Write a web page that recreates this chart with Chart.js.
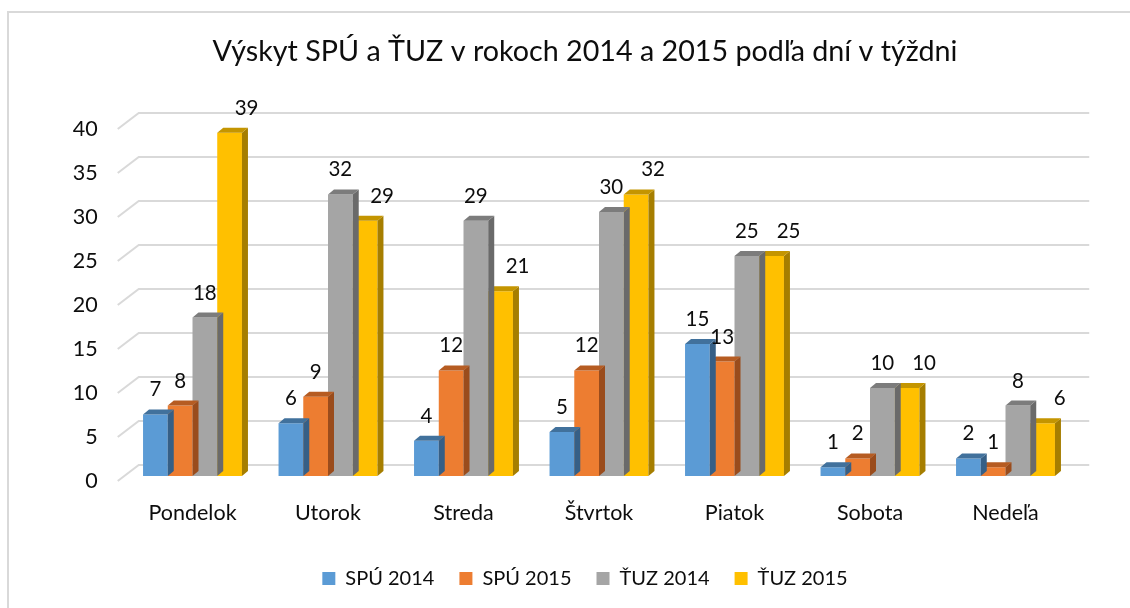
<!DOCTYPE html>
<html>
<head>
<meta charset="utf-8">
<script src="https://cdn.jsdelivr.net/npm/chart.js@4.4.1/dist/chart.umd.min.js"></script>
<style>
  html, body { margin: 0; padding: 0; background: #ffffff; }
  #wrap { width: 1130px; height: 608px; position: relative; }
</style>
</head>
<body>
<div id="wrap"><canvas id="c" width="1130" height="608"></canvas></div>
<script>
// ---- data ----
const chartTitle = 'Výskyt SPÚ a ŤUZ v rokoch 2014 a 2015 podľa dní v týždni';
const categories = ['Pondelok', 'Utorok', 'Streda', 'Štvrtok', 'Piatok', 'Sobota', 'Nedeľa'];
const seriesNames = ['SPÚ 2014', 'SPÚ 2015', 'ŤUZ 2014', 'ŤUZ 2015'];
const spu2014 = [7, 6, 4, 5, 15, 1, 2];
const spu2015 = [8, 9, 12, 12, 13, 2, 1];
const tuz2014 = [18, 32, 29, 30, 25, 10, 8];
const tuz2015 = [39, 29, 21, 32, 25, 10, 6];
const yTicks = [0, 5, 10, 15, 20, 25, 30, 35, 40];

// ---- styles ----
const frontColors = ['#5B9BD5', '#ED7D31', '#A5A5A5', '#FFC000'];
const topColors   = ['#41719C', '#B65C22', '#7C7C7C', '#C49500'];
const sideColors  = ['#365F86', '#9A4C1C', '#6A6A6A', '#A67E00'];
const labelShift  = [0, 0, 0, 17];
const FONT = 'Lato';
const TEXT = '#0d0d0d';
const DX = 6, DY = 5;

const frame = {
  id: 'frame',
  beforeDraw(chart) {
    const ctx = chart.ctx;
    ctx.save();
    ctx.fillStyle = '#ffffff';
    ctx.fillRect(0, 0, chart.width, chart.height);
    ctx.strokeStyle = '#D9D9D9';
    ctx.lineWidth = 2;
    ctx.beginPath();
    ctx.moveTo(8, chart.height);
    ctx.lineTo(8, 12);
    ctx.lineTo(chart.width, 12);
    ctx.stroke();
    ctx.restore();
  }
};

const wallGrid = {
  id: 'wallGrid',
  beforeDatasetsDraw(chart) {
    const ctx = chart.ctx, ys = chart.scales.y, a = chart.chartArea;
    ctx.save();
    ctx.strokeStyle = '#D9D9D9';
    ctx.lineWidth = 2;
    yTicks.forEach(v => {
      const p = ys.getPixelForValue(v);
      ctx.beginPath();
      ctx.moveTo(a.left - 7, p + 5);
      ctx.lineTo(a.left + 14, p - 11);
      ctx.lineTo(a.right + 16, p - 11);
      ctx.stroke();
    });
    ctx.restore();
  }
};

const bar3d = {
  id: 'bar3d',
  afterDatasetDraw(chart, args) {
    const ctx = chart.ctx, i = args.index;
    ctx.save();
    args.meta.data.forEach(bar => {
      const {x, y, base, width} = bar.getProps(['x', 'y', 'base', 'width'], true);
      const l = x - width / 2, r = x + width / 2;
      ctx.fillStyle = sideColors[i];
      ctx.beginPath();
      ctx.moveTo(r, y); ctx.lineTo(r + DX, y - DY); ctx.lineTo(r + DX, base - DY); ctx.lineTo(r, base);
      ctx.closePath(); ctx.fill();
      ctx.fillStyle = topColors[i];
      ctx.beginPath();
      ctx.moveTo(l, y); ctx.lineTo(r, y); ctx.lineTo(r + DX, y - DY); ctx.lineTo(l + DX, y - DY);
      ctx.closePath(); ctx.fill();
    });
    ctx.restore();
  }
};

const valueLabels = {
  id: 'valueLabels',
  afterDatasetsDraw(chart) {
    const ctx = chart.ctx;
    ctx.save();
    ctx.font = '20.5px ' + FONT;
    ctx.fillStyle = TEXT;
    ctx.textAlign = 'center';
    ctx.textBaseline = 'alphabetic';
    chart.data.datasets.forEach((ds, i) => {
      const meta = chart.getDatasetMeta(i);
      meta.data.forEach((bar, j) => {
        const {x, y} = bar.getProps(['x', 'y'], true);
        ctx.fillText(String(ds.data[j]), x + labelShift[i], y - 18);
      });
    });
    ctx.restore();
  }
};

const seriesData = [spu2014, spu2015, tuz2014, tuz2015];

new Chart(document.getElementById('c'), {
  type: 'bar',
  data: {
    labels: categories,
    datasets: seriesNames.map((name, i) => ({
      label: name,
      data: seriesData[i],
      backgroundColor: frontColors[i],
      borderWidth: 0,
      categoryPercentage: 0.73,
      barPercentage: 1.0
    }))
  },
  options: {
    responsive: false,
    animation: false,
    events: [],
    layout: { padding: { left: 60, right: 20, top: 0, bottom: 9.5 } },
    scales: {
      x: {
        grid: { display: false, drawTicks: false },
        border: { display: false },
        ticks: { font: { family: FONT, size: 21.5 }, color: TEXT, padding: 24, maxRotation: 0 },
        afterFit(s) { s.height = 67.5; }
      },
      y: {
        min: 0, max: 40,
        grid: { display: false, drawTicks: false },
        border: { display: false },
        ticks: { stepSize: 5, font: { family: FONT, size: 21.5 }, color: TEXT, padding: 27, labelOffset: 5 },
        afterFit(s) { s.width = 64.75; }
      },
      y2: {
        position: 'right',
        min: 0, max: 40,
        grid: { display: false, drawTicks: false },
        border: { display: false },
        ticks: { display: false },
        afterFit(s) { s.width = 36.75; }
      }
    },
    plugins: {
      title: {
        display: true,
        text: chartTitle,
        color: TEXT,
        font: { family: FONT, size: 28.7, weight: 'normal', lineHeight: 1.2 },
        padding: { top: 34.78, bottom: 54.78 }
      },
      legend: {
        position: 'bottom',
        labels: { font: { family: FONT, size: 20 }, color: TEXT, boxWidth: 13, boxHeight: 13, padding: 25 }
      },
      tooltip: { enabled: false }
    }
  },
  plugins: [frame, wallGrid, bar3d, valueLabels]
});
</script>
</body>
</html>
